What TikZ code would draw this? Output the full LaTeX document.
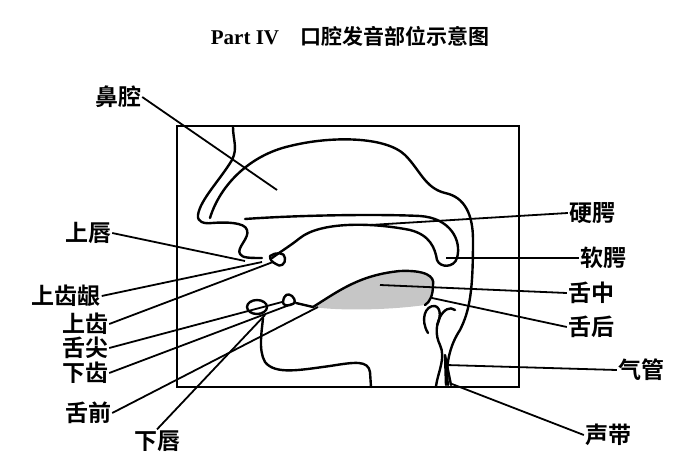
\documentclass[tikz,border=0pt]{standalone}
\usepackage{fontspec}
\newfontfamily\cjk{Noto Sans CJK SC}[BoldFont={* Bold}]
\setmainfont{Liberation Serif}
\begin{document}
\begin{tikzpicture}[x=1pt,y=-1pt,
  lab/.style={font=\cjk\bfseries\fontsize{23}{25}\selectfont,inner sep=1pt},
  ptr/.style={line width=1.8pt},
  organ/.style={line width=2.4pt,line join=round,line cap=round}]
\useasboundingbox (0,0) rectangle (700,470);
\node[font=\bfseries\fontsize{21}{23}\selectfont] (title) at (350,36) {Part \uppercase\expandafter{\romannumeral4}\quad{\cjk\bfseries 口腔发音部位示意图}};
\draw[line width=2pt] (177,126) rectangle (519,387);
% tongue shading
\fill[gray!45] (313,307) .. controls (340,290) and (360,275) .. (400,271) .. controls (425,270) and (435,276) .. (433,285) .. controls (433,295) and (430,302) .. (425,305) .. controls (390,310) and (340,311) .. cycle;
\draw[organ] (313,307) .. controls (340,290) and (360,275) .. (400,271) .. controls (425,270) and (435,276) .. (433,285) .. controls (433,295) and (430,302) .. (425,305);
% nose / face outer
\draw[organ] (233,127) .. controls (233,140) and (238,148) .. (232,160) .. controls (220,180) and (200,200) .. (198,215) .. controls (197,222) and (204,224) .. (212,223) .. controls (225,222) and (245,222) .. (247,230) .. controls (250,238) and (236,248) .. (240,254) .. controls (242,258) and (250,258) .. (262,258);
% nasal cavity inner line
\draw[organ] (210,218) .. controls (220,185) and (250,155) .. (290,146) .. controls (330,136) and (385,136) .. (405,155) .. controls (420,170) and (425,188) .. (445,193) .. controls (465,197) and (473,215) .. (473,240) .. controls (473,290) and (470,310) .. (460,330) .. controls (450,345) and (445,365) .. (448,385);
% hard palate / velum
\draw[organ] (245,219) .. controls (300,215) and (380,214) .. (420,216) .. controls (450,218) and (462,240) .. (457,258) .. controls (454,268) and (440,268) .. (437,260) .. controls (435,248) and (430,235) .. (410,230) .. controls (370,222) and (320,222) .. (300,238) .. controls (290,246) and (280,252) .. (272,258);
% upper teeth
\draw[organ] (270,256) .. controls (275,252) and (285,252) .. (285,258) .. controls (286,264) and (280,268) .. (276,264) .. controls (272,262) and (270,260) .. cycle;
% lower lip and teeth
\draw[organ] (257,307) ellipse (10 and 7);
\draw[organ] (283,302) .. controls (284,294) and (288,293) .. (292,296) .. controls (296,300) and (296,304) .. (290,305) .. controls (286,306) and (283,305) .. cycle;
\draw[organ] (296,303) -- (313,307);
% jaw
\draw[organ] (263,318) .. controls (262,330) and (258,350) .. (265,362) .. controls (275,375) and (300,370) .. (330,366) .. controls (355,362) and (368,360) .. (370,372) -- (371,387);
% epiglottis
\draw[organ] (428,333) .. controls (420,320) and (425,305) .. (435,306) .. controls (442,308) and (440,320) .. (437,325);
\draw[organ] (455,310) .. controls (445,302) and (430,325) .. (440,345) .. controls (446,358) and (438,372) .. (436,386);
\draw[organ] (446,385) -- (445,355) -- (451,385);
% labels
\node[lab] (bq) at (118,97) {鼻腔};
\node[lab] (sc) at (88,233) {上唇};
\node[lab] (syy) at (66,296) {上齿龈};
\node[lab] (sy) at (85,324) {上齿};
\node[lab] (sj) at (85,348) {舌尖};
\node[lab] (xy) at (85,373) {下齿};
\node[lab] (sq) at (88,413) {舌前};
\node[lab] (xc) at (157,441) {下唇};
\node[lab] (ye) at (592,213) {硬腭};
\node[lab] (re) at (603,258) {软腭};
\node[lab] (sz) at (591,293) {舌中};
\node[lab] (sh) at (591,327) {舌后};
\node[lab] (qg) at (641,370) {气管};
\node[lab] (sd) at (608,435) {声带};
\coordinate (pbq) at (277,190);
\coordinate (psc) at (245,261);
\coordinate (psyy) at (262,262);
\coordinate (psy) at (273,262);
\coordinate (psj) at (282,302);
\coordinate (pxy) at (292,304);
\coordinate (psq) at (318,307);
\coordinate (pxc) at (265,315);
\coordinate (pye) at (370,225);
\coordinate (pre) at (446,258);
\coordinate (psz) at (380,285);
\coordinate (psh) at (432,298);
\coordinate (pqg) at (446,365);
\coordinate (psd) at (452,384);
\draw[ptr] (bq.east) -- (pbq);
\draw[ptr] (sc.east) -- (psc);
\draw[ptr] (syy.east) -- (psyy);
\draw[ptr] (sy.east) -- (psy);
\draw[ptr] (sj.east) -- (psj);
\draw[ptr] (xy.east) -- (pxy);
\draw[ptr] (sq.east) -- (psq);
\draw[ptr] (xc.north) -- (pxc);
\draw[ptr] (ye.west) -- (pye);
\draw[ptr] (re.west) -- (pre);
\draw[ptr] (sz.west) -- (psz);
\draw[ptr] (sh.west) -- (psh);
\draw[ptr] (qg.west) -- (pqg);
\draw[ptr] (sd.west) -- (psd);
\end{tikzpicture}
\end{document}
